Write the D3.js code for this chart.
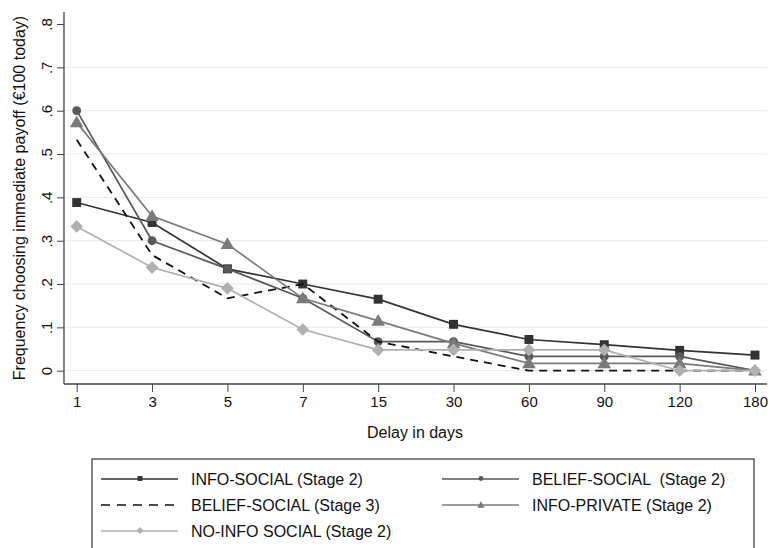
<!DOCTYPE html>
<html>
<head>
<meta charset="utf-8">
<script src="https://cdn.jsdelivr.net/npm/d3@7"></script>
<style>
  html, body { margin: 0; padding: 0; background: #fff; }
  svg { display: block; font-family: "Liberation Sans", Arial, Helvetica, sans-serif; }
</style>
</head>
<body>
<svg id="chart" width="770" height="548"></svg>
<script>
// Delay categories (days) shown on the x axis
const delays = ["1", "3", "5", "7", "15", "30", "60", "90", "120", "180"];

// Share of subjects choosing the immediate payoff, per treatment
const infoSocial2   = [0.388, 0.342, 0.235, 0.200, 0.165, 0.107, 0.072, 0.060, 0.047, 0.036];
const beliefSocial2 = [0.600, 0.300, 0.235, 0.167, 0.067, 0.067, 0.033, 0.033, 0.033, 0.000];
const beliefSocial3 = [0.533, 0.267, 0.167, 0.200, 0.067, 0.033, 0.000, 0.000, 0.000, 0.000];
const infoPrivate2  = [0.573, 0.357, 0.292, 0.167, 0.115, 0.063, 0.017, 0.017, 0.017, 0.000];
const noInfoSocial2 = [0.333, 0.238, 0.190, 0.095, 0.048, 0.048, 0.048, 0.048, 0.000, 0.000];

// Y axis ticks
const yTicks = [0, 0.1, 0.2, 0.3, 0.4, 0.5, 0.6, 0.7, 0.8];

const seriesLabels = [
  "INFO-SOCIAL (Stage 2)",
  "BELIEF-SOCIAL  (Stage 2)",
  "BELIEF-SOCIAL (Stage 3)",
  "INFO-PRIVATE (Stage 2)",
  "NO-INFO SOCIAL (Stage 2)"
];

const series = [
  { name: seriesLabels[0], values: infoSocial2,   color: "#333333", marker: "square",   dash: null,  size: 80 },
  { name: seriesLabels[1], values: beliefSocial2, color: "#595959", marker: "circle",   dash: null,  size: 62 },
  { name: seriesLabels[2], values: beliefSocial3, color: "#111111", marker: null,       dash: "8,6", size: 0 },
  { name: seriesLabels[3], values: infoPrivate2,  color: "#7a7a7a", marker: "triangle", dash: null,  size: 80 },
  { name: seriesLabels[4], values: noInfoSocial2, color: "#b0b0b0", marker: "diamond",  dash: null,  size: 80 }
];

const svg = d3.select("#chart");

// Plot geometry
const axisX = 64;        // y-axis line position
const axisY = 384;       // x-axis line position
const plotTop = 12;
const plotRight = 767;

const x = d3.scalePoint().domain(delays).range([76.7, 755]);
const y = d3.scaleLinear().domain([0, 0.8]).range([370.7, 24]);

// Horizontal gridlines
svg.append("g")
  .selectAll("line")
  .data(yTicks.filter(t => t < 0.8))
  .join("line")
  .attr("x1", axisX + 1).attr("x2", plotRight)
  .attr("y1", d => y(d)).attr("y2", d => y(d))
  .attr("stroke", "#e6eef3").attr("stroke-width", 1.2);

// Y axis
const fmtY = d => d === 0 ? "0" : d3.format(".1f")(d).replace(/^0/, "");
const yAxis = svg.append("g")
  .attr("transform", `translate(${axisX},0)`)
  .call(d3.axisLeft(y).tickValues(yTicks).tickSize(7).tickPadding(0).tickFormat(fmtY));
yAxis.select(".domain").remove();
yAxis.selectAll(".tick line").attr("stroke", "#444");
yAxis.selectAll(".tick text")
  .attr("x", 0).attr("dy", null)
  .attr("transform", "translate(-18,0) rotate(-90)")
  .attr("text-anchor", "middle")
  .attr("dominant-baseline", "central")
  .attr("font-size", 15).attr("fill", "#111")
  .style("font-family", "Liberation Sans, Arial, sans-serif");
svg.append("line")
  .attr("x1", axisX).attr("x2", axisX)
  .attr("y1", plotTop).attr("y2", axisY)
  .attr("stroke", "#444").attr("stroke-width", 1.3);

// X axis
const xAxis = svg.append("g")
  .attr("transform", `translate(0,${axisY})`)
  .call(d3.axisBottom(x).tickSize(8).tickPadding(4));
xAxis.select(".domain").remove();
xAxis.selectAll(".tick line").attr("stroke", "#444");
xAxis.selectAll(".tick text")
  .attr("font-size", 15).attr("fill", "#111")
  .style("font-family", "Liberation Sans, Arial, sans-serif");
svg.append("line")
  .attr("x1", axisX).attr("x2", plotRight)
  .attr("y1", axisY).attr("y2", axisY)
  .attr("stroke", "#444").attr("stroke-width", 1.3);

// Axis titles
svg.append("text")
  .attr("transform", `translate(19,${(plotTop + axisY) / 2}) rotate(-90)`)
  .attr("text-anchor", "middle")
  .attr("dominant-baseline", "central")
  .attr("font-size", 16).attr("fill", "#111")
  .text("Frequency choosing immediate payoff (€100 today)");

svg.append("text")
  .attr("x", 415).attr("y", 438)
  .attr("text-anchor", "middle")
  .attr("font-size", 16).attr("fill", "#111")
  .text("Delay in days");

// Marker shapes
const symbolType = {
  square: d3.symbolSquare,
  circle: d3.symbolCircle,
  triangle: d3.symbolTriangle,
  diamond: d3.symbolSquare
};
function markerPath(s, scale) {
  return d3.symbol().type(symbolType[s.marker]).size(s.size * (scale || 1))();
}
function markerTransform(s, px, py) {
  if (s.marker === "diamond") return `translate(${px},${py}) rotate(45)`;
  if (s.marker === "triangle") return `translate(${px},${py + 1})`;
  return `translate(${px},${py})`;
}

const line = d3.line()
  .x((d, i) => x(delays[i]))
  .y(d => y(d));

// Series lines and markers, drawn in treatment order
series.forEach(s => {
  const g = svg.append("g");
  g.append("path")
    .datum(s.values)
    .attr("d", line)
    .attr("fill", "none")
    .attr("stroke", s.color)
    .attr("stroke-width", s.dash ? 1.8 : 1.7)
    .attr("stroke-dasharray", s.dash);
  if (s.marker) {
    g.selectAll("path.mk")
      .data(s.values)
      .join("path")
      .attr("class", "mk")
      .attr("d", markerPath(s))
      .attr("transform", (d, i) => markerTransform(s, x(delays[i]), y(d)))
      .attr("fill", s.color);
  }
});

// Legend
const legend = svg.append("g");
legend.append("rect")
  .attr("x", 92).attr("y", 459)
  .attr("width", 662).attr("height", 100)
  .attr("fill", "#fff")
  .attr("stroke", "#333").attr("stroke-width", 1.2);

const legendPos = [
  { lx: 101, ly: 479 },
  { lx: 442, ly: 479 },
  { lx: 101, ly: 505 },
  { lx: 442, ly: 505 },
  { lx: 101, ly: 531 }
];
series.forEach((s, i) => {
  const p = legendPos[i];
  const g = legend.append("g");
  g.append("line")
    .attr("x1", p.lx).attr("x2", p.lx + 77)
    .attr("y1", p.ly).attr("y2", p.ly)
    .attr("stroke", s.color)
    .attr("stroke-width", 1.6)
    .attr("stroke-dasharray", s.dash ? "9,7" : null);
  if (s.marker) {
    g.append("path")
      .attr("d", markerPath(s, 0.3))
      .attr("transform", markerTransform(s, p.lx + 39, p.ly - 0.5))
      .attr("fill", s.color);
  }
  g.append("text")
    .attr("x", p.lx + 90).attr("y", p.ly)
    .attr("dominant-baseline", "central")
    .attr("font-size", 16).attr("fill", "#111")
    .style("white-space", "pre")
    .text(s.name);
});
</script>
</body>
</html>
